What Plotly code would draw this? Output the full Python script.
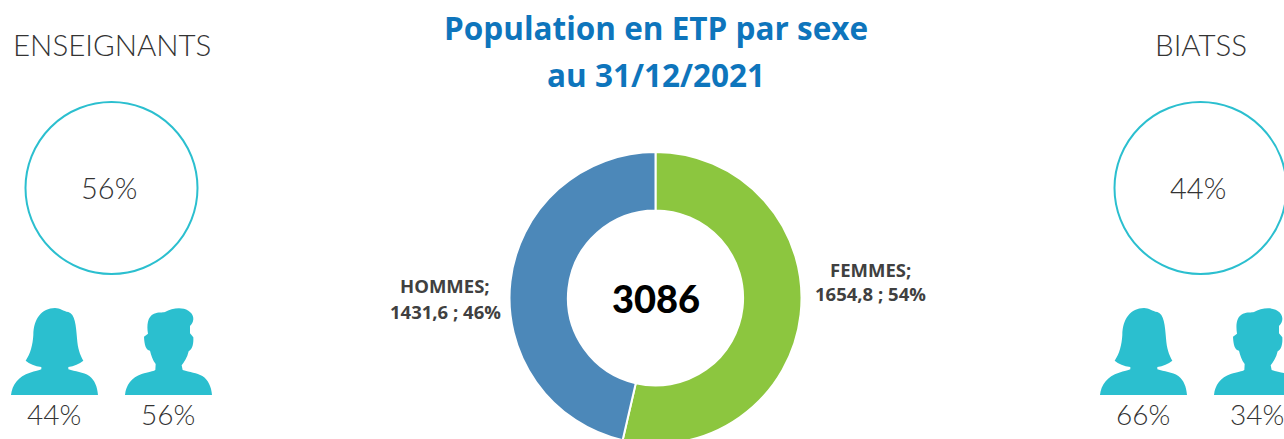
import plotly.graph_objects as go

W, H = 1284, 445

sexes = ["FEMMES", "HOMMES"]
etp = [1654.8, 1431.6]
etp_labels = ["1654,8", "1431,6"]
shares = ["54%", "46%"]
total = "3086"
title_lines = ["Population en ETP par sexe", "au 31/12/2021"]
groups = ["ENSEIGNANTS", "BIATSS"]
group_share = ["56%", "44%"]
women_share = ["44%", "66%"]
men_share = ["56%", "34%"]

TEAL = "#2bbfcf"
GREY = "#333333"
LIGHT = dict(family="Lato", weight=300, color=GREY)


def X(x):
    return x / W


def Y(y):
    return 1 - y / H


def P(x, y):
    return f"{X(x):.5f},{Y(y):.5f}"


def path(ops, dx):
    out = []
    for op in ops:
        c, pts = op[0], op[1:]
        if c == "C":
            for k in range(0, len(pts), 3):
                out.append("C" + " ".join(P(px / 3 + dx, py / 3 + 290) for px, py in pts[k:k + 3]))
        else:
            out.append(c + " ".join(P(px / 3 + dx, py / 3 + 290) for px, py in pts))
    return " ".join(out) + " Z"


WOMAN = [
    ("M", (33, 315)),
    ("C", (36, 285), (55, 258), (90, 248), (105, 243), (118, 241), (124, 238)),
    ("L", (124, 231)),
    ("C", (105, 228), (88, 222), (77, 212), (92, 190), (98, 165), (100, 135)),
    ("C", (101, 85), (125, 55), (165, 54), (180, 54), (190, 64), (205, 66)),
    ("C", (225, 72), (228, 105), (231, 145), (233, 175), (240, 195), (250, 212)),
    ("C", (238, 222), (222, 228), (205, 231)),
    ("L", (205, 238)),
    ("C", (225, 245), (250, 246), (268, 258), (285, 272), (292, 290), (294, 315)),
]
MAN = [
    ("M", (375, 315)),
    ("C", (378, 285), (395, 262), (425, 252), (445, 246), (460, 244), (466, 240)),
    ("L", (467, 222)),
    ("C", (458, 210), (453, 195), (450, 182), (438, 180), (433, 165), (432, 140)),
    ("L", (444, 131)),
    ("C", (440, 105), (442, 80), (462, 71), (475, 66), (488, 68), (495, 66)),
    ("C", (515, 55), (545, 50), (565, 62), (582, 72), (586, 92), (570, 108)),
    ("L", (570, 130)),
    ("L", (580, 142)),
    ("C", (581, 160), (578, 178), (566, 184), (562, 203), (552, 217), (545, 226)),
    ("L", (548, 240)),
    ("C", (570, 247), (590, 248), (607, 258), (625, 270), (634, 290), (636, 315)),
]


def circle(cx, cy, r):
    return dict(type="circle", xref="paper", yref="paper",
                x0=X(cx - r), x1=X(cx + r), y0=Y(cy + r), y1=Y(cy - r),
                line=dict(color=TEAL, width=2), fillcolor="rgba(0,0,0,0)")


def note(x, y, text, size, **font):
    return dict(x=X(x), y=Y(y), xref="paper", yref="paper", text=text,
                showarrow=False, xanchor="center", yanchor="middle",
                font=dict(size=size, **font))


fig = go.Figure(go.Pie(
    labels=sexes, values=etp, hole=0.6, sort=False, direction="clockwise",
    rotation=0, textinfo="none", showlegend=False,
    marker=dict(colors=["#8cc63f", "#4c88b9"], line=dict(color="white", width=2)),
    domain=dict(x=[X(655.5 - 146), X(655.5 + 146)], y=[Y(444), Y(152)]),
))

BOLD = dict(family="Open Sans", weight=700)
annotations = [
    note(656, 28, title_lines[0], 31.5, color="#0e75bc", **BOLD),
    note(656, 74, title_lines[1], 31.5, color="#0e75bc", **BOLD),
    note(656, 298, total, 38, family="Lato", weight=900, color="#000000"),
    note(870.5, 269, sexes[0] + ";", 18.5, color="#404040", **BOLD),
    note(870.5, 293, f"{etp_labels[0]} ; {shares[0]}", 18.5, color="#404040", **BOLD),
    note(445, 285, sexes[1] + ";", 18.5, color="#404040", **BOLD),
    note(445, 311, f"{etp_labels[1]} ; {shares[1]}", 18.5, color="#404040", **BOLD),
]
shapes = []
for i, dx in enumerate([0, 1089]):
    annotations += [
        note(111.5 + dx, 44, groups[i], 29.5, **LIGHT),
        note(109 + dx, 188, group_share[i], 29, **LIGHT),
        note(54 + dx, 414, women_share[i], 28, **LIGHT),
        note(168 + dx, 414, men_share[i], 28, **LIGHT),
    ]
    shapes.append(circle(111.5 + dx, 188, 86))
    for icon in (WOMAN, MAN):
        shapes.append(dict(type="path", xref="paper", yref="paper",
                           path=path(icon, dx), fillcolor=TEAL,
                           line=dict(width=0)))

fig.update_layout(width=W, height=H, margin=dict(l=0, r=0, t=0, b=0),
                  paper_bgcolor="white", plot_bgcolor="white",
                  annotations=annotations, shapes=shapes)

fig.write_html("out.html", config=dict(displayModeBar=False),
               post_script="document.body.style.margin='0';document.body.style.overflow='hidden';")
